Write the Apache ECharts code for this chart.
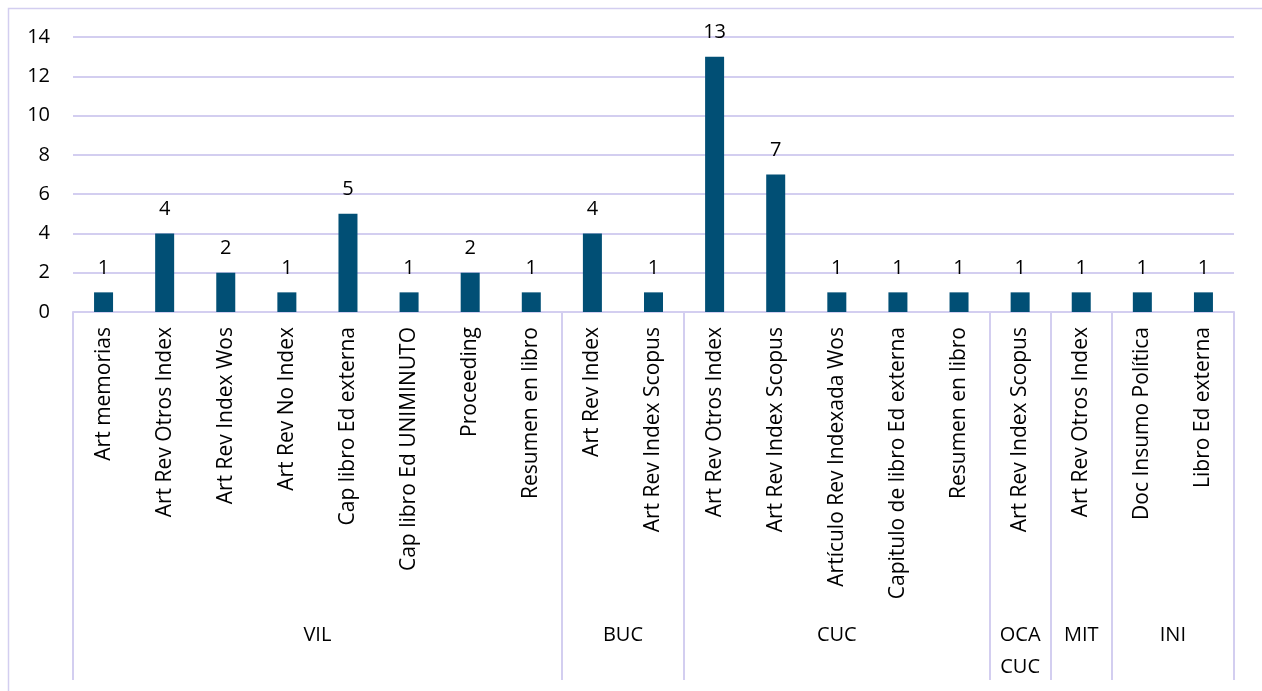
<!DOCTYPE html>
<html>
<head>
<meta charset="utf-8">
<script src="https://cdn.jsdelivr.net/npm/echarts@6/dist/echarts.min.js"></script>
<style>
  html, body { margin: 0; padding: 0; background: #fff; }
  #chart { width: 1262px; height: 691px; }
</style>
</head>
<body>
<div id="chart"></div>
<script>
// sub categories (lower level labels)
var categories = [
  'Art memorias', 'Art Rev Otros Index', 'Art Rev Index Wos', 'Art Rev No Index',
  'Cap libro Ed externa', 'Cap libro Ed UNIMINUTO', 'Proceeding', 'Resumen en libro',
  'Art Rev Index', 'Art Rev Index Scopus',
  'Art Rev Otros Index', 'Art Rev Index Scopus', 'Artículo Rev Indexada Wos',
  'Capitulo de libro Ed externa', 'Resumen en libro',
  'Art Rev Index Scopus',
  'Art Rev Otros Index',
  'Doc Insumo Política', 'Libro Ed externa'
];
var values = [1, 4, 2, 1, 5, 1, 2, 1, 4, 1, 13, 7, 1, 1, 1, 1, 1, 1, 1];

// groups and how many categories each one spans
var groupNames = ['VIL', 'BUC', 'CUC', 'OCA\nCUC', 'MIT', 'INI'];
var groupSizes = [8, 2, 5, 1, 1, 2];

var yTicks = [0, 2, 4, 6, 8, 10, 12, 14];

var lineColor = '#D3CEF0';
var font = 'Open Sans';

// boundaries and centres of the groups in category units
var bounds = [0];
var centers = [];
groupSizes.forEach(function (n, i) {
  centers.push(bounds[i] + n / 2);
  bounds.push(bounds[i] + n);
});

var chart = echarts.init(document.getElementById('chart'));

var option = {
  animation: false,
  grid: { left: 73, right: 28, top: 37, bottom: 379 },
  graphic: [{
    type: 'rect',
    shape: { x: 8.5, y: 8.5, width: 1300, height: 700 },
    style: { fill: 'none', stroke: lineColor, lineWidth: 1.5 },
    silent: true
  }],
  xAxis: [
    {
      type: 'category',
      data: categories,
      axisLine: { lineStyle: { color: lineColor, width: 2 } },
      axisTick: { show: false },
      axisLabel: {
        rotate: 90, interval: 0, margin: 15,
        color: '#000', fontFamily: font, fontSize: 21
      }
    },
    {
      type: 'value',
      min: 0, max: categories.length,
      position: 'bottom',
      axisLine: { show: false },
      splitLine: { show: false },
      axisTick: {
        show: true, length: 368, customValues: bounds,
        lineStyle: { color: lineColor, width: 2 }
      },
      axisLabel: {
        customValues: centers, margin: 307,
        color: '#000', fontFamily: font, fontSize: 20, lineHeight: 32,
        formatter: function (v) {
          var i = centers.indexOf(v);
          return i >= 0 ? groupNames[i] : '';
        }
      }
    }
  ],
  yAxis: {
    type: 'value',
    min: yTicks[0], max: yTicks[yTicks.length - 1], interval: 2,
    axisLine: { show: false },
    axisTick: { show: false },
    splitLine: { lineStyle: { color: lineColor, width: 2 } },
    axisLabel: { margin: 23, color: '#000', fontFamily: font, fontSize: 20 }
  },
  series: [{
    type: 'bar',
    xAxisIndex: 0,
    data: values,
    barWidth: 19,
    itemStyle: { color: '#014F75' },
    label: {
      show: true, position: 'top', distance: 14,
      color: '#000', fontFamily: font, fontSize: 20
    }
  }]
};

chart.setOption(option);
</script>
</body>
</html>
